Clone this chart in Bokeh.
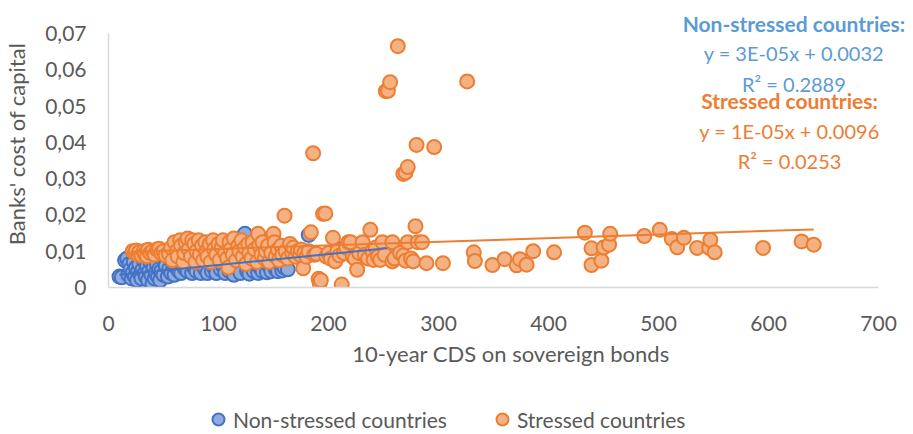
from bokeh.plotting import figure
from bokeh.layouts import column
from bokeh.models import Range1d, FixedTicker, CustomJSTickFormatter, Label, Legend, LegendItem
from bokeh.embed import file_html
from bokeh.resources import INLINE

# ---------------- data ----------------
non_stressed_points = [
    (10, 0.0030), (12, 0.0028), (15, 0.0075), (17, 0.0080), (18, 0.0035), (19, 0.0065), (20, 0.0050),
    (21, 0.0025), (22, 0.0040), (23, 0.0070), (24, 0.0030), (25, 0.0055), (26, 0.0020), (27, 0.0045),
    (28, 0.0065), (29, 0.0035), (30, 0.0025), (31, 0.0050), (32, 0.0075), (33, 0.0040), (34, 0.0030),
    (35, 0.0060), (36, 0.0020), (37, 0.0045), (38, 0.0070), (39, 0.0035), (40, 0.0010), (41, 0.0055),
    (42, 0.0025), (43, 0.0040), (44, 0.0065), (45, 0.0030), (46, 0.0050), (47, 0.0020), (48, 0.0045),
    (50, 0.0035), (52, 0.0060), (54, 0.0030), (55, 0.0050), (57, 0.0040), (58, 0.0070), (60, 0.0035),
    (62, 0.0055), (64, 0.0045), (66, 0.0040), (68, 0.0060), (70, 0.0050), (72, 0.0045), (74, 0.0070),
    (76, 0.0040), (78, 0.0055), (80, 0.0045), (82, 0.0080), (84, 0.0040), (86, 0.0060), (88, 0.0050),
    (90, 0.0040), (92, 0.0075), (94, 0.0045), (96, 0.0055), (98, 0.0040), (100, 0.0090), (102, 0.0050),
    (104, 0.0060), (106, 0.0040), (108, 0.0110), (110, 0.0045), (112, 0.0070), (114, 0.0035),
    (116, 0.0120), (118, 0.0050), (120, 0.0040), (122, 0.0140), (124, 0.0148), (126, 0.0045),
    (128, 0.0038), (130, 0.0060), (132, 0.0045), (134, 0.0100), (136, 0.0040), (138, 0.0055),
    (140, 0.0045), (142, 0.0080), (144, 0.0042), (146, 0.0060), (148, 0.0045), (150, 0.0090),
    (152, 0.0050), (154, 0.0045), (156, 0.0065), (158, 0.0047), (160, 0.0055), (163, 0.0050),
    (172, 0.0085), (182, 0.0145), (205, 0.0100), (215, 0.0110), (222, 0.0095), (230, 0.0105),
    (235, 0.0104), (242, 0.0098), (248, 0.0102), (253, 0.0102),
]

stressed_points = [
    (22, 0.0100), (24, 0.0095), (25, 0.0102), (27, 0.0090), (28, 0.0098), (30, 0.0088), (32, 0.0100),
    (33, 0.0092), (35, 0.0086), (36, 0.0104), (38, 0.0095), (40, 0.0100), (42, 0.0090), (44, 0.0105),
    (46, 0.0107), (48, 0.0095), (50, 0.0100), (52, 0.0088), (55, 0.0092), (57, 0.0110), (58, 0.0075),
    (60, 0.0125), (62, 0.0100), (63, 0.0085), (65, 0.0130), (66, 0.0115), (68, 0.0070), (69, 0.0095),
    (70, 0.0125), (72, 0.0135), (73, 0.0105), (75, 0.0085), (76, 0.0130), (78, 0.0120), (79, 0.0070),
    (80, 0.0100), (82, 0.0130), (83, 0.0090), (85, 0.0115), (86, 0.0075), (88, 0.0125), (89, 0.0100),
    (90, 0.0085), (92, 0.0120), (93, 0.0070), (95, 0.0130), (96, 0.0105), (98, 0.0090), (100, 0.0120),
    (101, 0.0075), (103, 0.0110), (104, 0.0130), (106, 0.0095), (108, 0.0080), (109, 0.0055),
    (110, 0.0125), (111, 0.0105), (113, 0.0090), (114, 0.0135), (116, 0.0075), (118, 0.0115),
    (119, 0.0100), (121, 0.0130), (122, 0.0085), (124, 0.0110), (125, 0.0065), (127, 0.0120),
    (128, 0.0095), (130, 0.0080), (131, 0.0125), (133, 0.0105), (135, 0.0070), (136, 0.0148),
    (137, 0.0115), (139, 0.0090), (140, 0.0125), (142, 0.0080), (143, 0.0100), (145, 0.0115),
    (146, 0.0070), (148, 0.0095), (150, 0.0148), (151, 0.0125), (152, 0.0085), (154, 0.0105),
    (155, 0.0075), (157, 0.0115), (158, 0.0090), (160, 0.0198), (161, 0.0100), (163, 0.0080),
    (165, 0.0120), (167, 0.0095), (168, 0.0110), (170, 0.0085), (172, 0.0100), (174, 0.0090),
    (175, 0.0105), (177, 0.0053), (178, 0.0095), (180, 0.0085), (182, 0.0100), (184, 0.0152),
    (186, 0.0370), (187, 0.0090), (189, 0.0093), (191, 0.0024), (192, 0.0012), (193, 0.0020),
    (195, 0.0203), (197, 0.0204), (198, 0.0085), (200, 0.0095), (202, 0.0080), (204, 0.0137),
    (206, 0.0072), (208, 0.0100), (210, 0.0088), (212, 0.0008), (214, 0.0095), (216, 0.0110),
    (218, 0.0125), (220, 0.0125), (222, 0.0085), (224, 0.0079), (226, 0.0049), (228, 0.0095),
    (231, 0.0125), (233, 0.0090), (236, 0.0080), (238, 0.0159), (240, 0.0100), (241, 0.0076),
    (243, 0.0110), (245, 0.0085), (247, 0.0076), (249, 0.0125), (251, 0.0090), (252, 0.0541),
    (254, 0.0542), (256, 0.0566), (258, 0.0072), (258, 0.0125), (260, 0.0080), (263, 0.0665),
    (265, 0.0095), (268, 0.0088), (268, 0.0313), (270, 0.0317), (270, 0.0074), (272, 0.0332),
    (272, 0.0125), (275, 0.0080), (277, 0.0072), (279, 0.0169), (280, 0.0393), (281, 0.0125),
    (285, 0.0125), (289, 0.0067), (296, 0.0387), (304, 0.0067), (326, 0.0568), (332, 0.0097),
    (333, 0.0073), (349, 0.0062), (360, 0.0078), (371, 0.0061), (374, 0.0078), (380, 0.0063),
    (386, 0.0100), (405, 0.0097), (433, 0.0151), (439, 0.0108), (439, 0.0062), (448, 0.0074),
    (450, 0.0110), (455, 0.0118), (456, 0.0148), (487, 0.0142), (501, 0.0159), (512, 0.0134),
    (517, 0.0111), (523, 0.0137), (535, 0.0109), (546, 0.0109), (547, 0.0131), (551, 0.0097),
    (595, 0.0109), (630, 0.0127), (641, 0.0118),
]

# trendline coefficients as printed on the chart (slope, intercept)
non_stressed_trend = [3e-05, 0.0032]
stressed_trend = [1e-05, 0.0096]

x_ticks = [0, 100, 200, 300, 400, 500, 600, 700]
y_ticks = [0, 0.01, 0.02, 0.03, 0.04, 0.05, 0.06, 0.07]

series_names = ["Non-stressed countries", "Stressed countries"]
annotation_lines_ns = ["Non-stressed countries:", "y = 3E-05x + 0.0032", "R\u00b2 = 0.2889"]
annotation_lines_s = ["Stressed countries:", "y = 1E-05x + 0.0096", "R\u00b2 = 0.0253"]

# ---------------- styles ----------------
BLUE_FILL, BLUE_LINE = "#8FAADC", "#4472C4"
ORANGE_FILL, ORANGE_LINE = "#F4B183", "#ED7D31"
BLUE_TEXT = "#5B9BD5"
GRAY = "#595959"
FONT = "Lato"
MARKER = dict(marker="circle", size=14, line_width=2)

ns_x = [a for a, b in non_stressed_points]
ns_y = [b for a, b in non_stressed_points]
s_x = [a for a, b in stressed_points]
s_y = [b for a, b in stressed_points]

# main plot: frame spans page x 106..913, y 0..287; axes drawn only over 0..700 and 0..0.07
p = figure(width=913, height=402, output_backend="svg", toolbar_location=None,
           x_range=Range1d(0, 731.7), y_range=Range1d(0, 0.0791),
           min_border_left=106, min_border_right=0, min_border_top=0, min_border_bottom=115)
p.outline_line_color = None
p.xgrid.visible = False
p.ygrid.visible = False

for ax in (p.xaxis[0], p.yaxis[0]):
    ax.axis_line_color = "#D9D9D9"
    ax.axis_line_width = 1.5
    ax.major_tick_line_color = None
    ax.minor_tick_line_color = None
    ax.major_tick_out = 0
    ax.major_tick_in = 0
    ax.minor_tick_out = 0
    ax.major_label_text_font = FONT
    ax.major_label_text_font_size = "21px"
    ax.major_label_text_color = GRAY
    ax.axis_label_text_font = FONT
    ax.axis_label_text_font_size = "22px"
    ax.axis_label_text_color = GRAY
    ax.axis_label_text_font_style = "normal"

p.xaxis[0].bounds = (0, 700)
p.yaxis[0].bounds = (0, 0.07)
p.xaxis[0].ticker = FixedTicker(ticks=x_ticks)
p.yaxis[0].ticker = FixedTicker(ticks=y_ticks)
p.yaxis[0].formatter = CustomJSTickFormatter(
    code="return tick == 0 ? '0' : tick.toFixed(2).replace('.', ',');")
p.xaxis[0].axis_label = "10-year CDS on sovereign bonds"
p.yaxis[0].axis_label = "Banks' cost of capital"
p.xaxis[0].major_label_standoff = 28
p.xaxis[0].axis_label_standoff = 6
p.yaxis[0].major_label_standoff = 22
p.yaxis[0].axis_label_standoff = 12

p.scatter(ns_x, ns_y, fill_color=BLUE_FILL, line_color=BLUE_LINE, **MARKER)
p.scatter(s_x, s_y, fill_color=ORANGE_FILL, line_color=ORANGE_LINE, **MARKER)

# linear trendlines over each series' x span
ns_tx = [min(ns_x), max(ns_x)]
ns_ty = [non_stressed_trend[0] * v + non_stressed_trend[1] for v in ns_tx]
s_tx = [min(s_x), max(s_x)]
s_ty = [stressed_trend[0] * v + stressed_trend[1] for v in s_tx]
p.line(ns_tx, ns_ty, line_color=BLUE_LINE, line_width=2)
p.line(s_tx, s_ty, line_color=ORANGE_LINE, line_width=2)

# equation annotations
ns_y_pos = [0.07275, 0.0645, 0.0562]
s_y_pos = [0.0515, 0.0430, 0.0350]
for i, (txt, yy) in enumerate(zip(annotation_lines_ns, ns_y_pos)):
    p.add_layout(Label(x=623, y=yy, text=txt, text_align="center", text_baseline="middle",
                       text_font=FONT, text_font_size="21px" if i == 0 else "20px",
                       text_color=BLUE_TEXT, text_font_style="bold" if i == 0 else "normal"))
for i, (txt, yy) in enumerate(zip(annotation_lines_s, s_y_pos)):
    p.add_layout(Label(x=619, y=yy, text=txt, text_align="center", text_baseline="middle",
                       text_font=FONT, text_font_size="21px" if i == 0 else "20px",
                       text_color=ORANGE_LINE, text_font_style="bold" if i == 0 else "normal"))

# legend strip below the plot (its renderers hold the series but the view range excludes them)
pl = figure(width=913, height=32, output_backend="svg", toolbar_location=None,
            x_range=Range1d(-2, -1), y_range=Range1d(-2, -1),
            x_axis_location=None, y_axis_location=None,
            min_border_left=0, min_border_right=0, min_border_top=0, min_border_bottom=0)
pl.outline_line_color = None
pl.grid.visible = False
lg_ns = pl.scatter(ns_x, ns_y, fill_color=BLUE_FILL, line_color=BLUE_LINE, **MARKER)
lg_s = pl.scatter(s_x, s_y, fill_color=ORANGE_FILL, line_color=ORANGE_LINE, **MARKER)
legend = Legend(items=[LegendItem(label=series_names[0], renderers=[lg_ns]),
                       LegendItem(label=series_names[1], renderers=[lg_s])],
                orientation="horizontal", location=(95, 0),
                glyph_width=30, glyph_height=30, label_standoff=0, spacing=40,
                padding=0, margin=0, border_line_alpha=0, background_fill_alpha=0,
                label_text_font=FONT, label_text_font_size="21px", label_text_color=GRAY)
pl.add_layout(legend)

open("out.html", "w").write(file_html(column(p, pl, spacing=0), INLINE))
